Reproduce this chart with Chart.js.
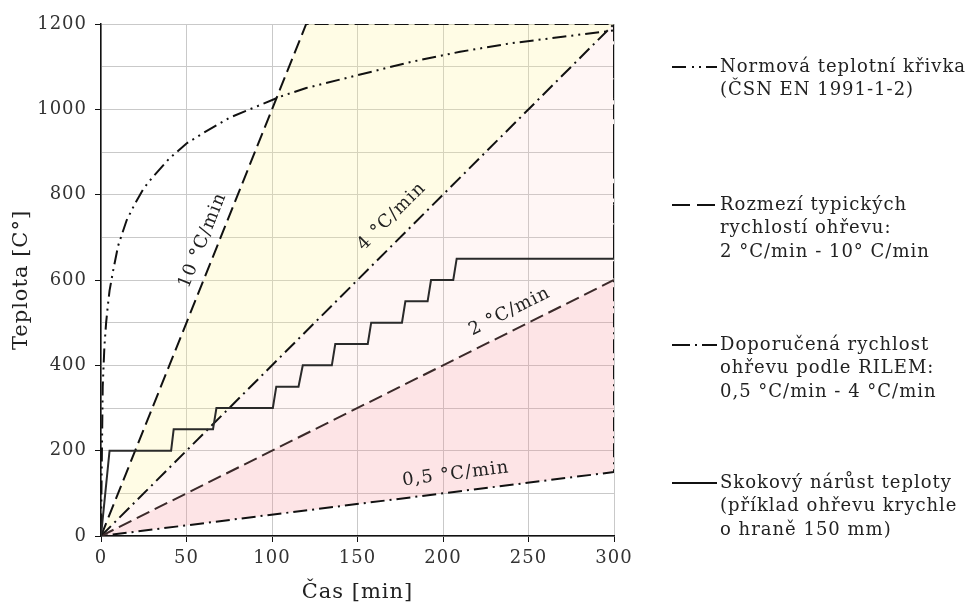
<!DOCTYPE html>
<html>
<head>
<meta charset="utf-8">
<script src="https://cdn.jsdelivr.net/npm/chart.js@4/dist/chart.umd.min.js"></script>
<style>
  html, body { margin: 0; padding: 0; background: #fff; }
  #wrap { width: 966px; height: 605px; position: relative; }
</style>
</head>
<body>
<div id="wrap"><canvas id="chart"></canvas></div>
<script>
/* ------------------------------
 * data
 * ------------------------------ */
// normová teplotní křivka
const isoTime = [0, 1, 2, 3, 4, 5, 7, 10, 15, 20, 25, 30, 40, 50, 60, 75, 90, 105, 120, 150, 180, 210, 240, 270, 300];
const isoTemp = [20, 350, 445, 500, 540, 575, 620, 680, 740, 780, 815, 840, 885, 920, 945, 980, 1005, 1030, 1050, 1080, 1110, 1135, 1155, 1170, 1185];

// rozmezí typických rychlostí (10 °C/min, strop, 2 °C/min)
const typHiTime = [0, 120, 300, 300];
const typHiTemp = [0, 1200, 1200, 600];
const typLoTime = [0, 300];
const typLoTemp = [0, 600];

// RILEM 4 °C/min a 0,5 °C/min
const rilemTime = [0, 300, 300, 0];
const rilemTemp = [0, 1200, 150, 0];

// skokový nárůst teploty
const stepTime = [0, 5, 41, 42.5, 65.5, 67.5, 100.5, 102.5, 115.5, 118, 135, 137, 156, 158, 176, 178, 191, 193, 206, 208, 300];
const stepTemp = [0, 200, 200, 250, 250, 300, 300, 350, 350, 400, 400, 450, 450, 500, 500, 550, 550, 600, 600, 650, 650];

// výplně mezi přímkami
const fillTime = [0, 120, 300];
const fill10 = [0, 1200, 1200];
const fill4 = [0, 480, 1200];
const fill2 = [0, 240, 600];
const fill05 = [0, 60, 150];

const xTicks = [0, 50, 100, 150, 200, 250, 300];
const yTicks = [0, 200, 400, 600, 800, 1000, 1200];

/* ------------------------------
 * helpers
 * ------------------------------ */
const FONT = "'DejaVu Serif', 'Liberation Serif', serif";
const pts = (xs, ys) => xs.map((x, i) => ({ x: x, y: ys[i] }));

const DASH = {
  iso:   [14, 5, 2, 5, 2, 5],
  typ:   [14, 6],
  rilem: [14, 5, 2, 5]
};

function lineSet(label, xs, ys, color, dash, width) {
  return {
    label: label,
    data: pts(xs, ys),
    borderColor: color,
    borderWidth: width,
    borderDash: dash,
    pointRadius: 0,
    fill: false,
    tension: 0,
    order: 1
  };
}

function fillSet(xs, ys, color, target) {
  return {
    data: pts(xs, ys),
    borderWidth: 0,
    borderColor: 'rgba(0,0,0,0)',
    backgroundColor: color,
    pointRadius: 0,
    fill: target === null ? false : { target: target },
    order: 10
  };
}

/* line labels (position in data units, slope in °C/min) */
const LINE_LABELS = [
  { text: '10 °C/min', t: 59.5, v: 693, rate: 10 },
  { text: '4 °C/min',  t: 170,  v: 749, rate: 4 },
  { text: '2 °C/min',  t: 239,  v: 526, rate: 2 },
  { text: '0,5 °C/min', t: 207.5, v: 145, rate: 0.5 }
];

/* legend */
const LEGEND = [
  { y: 67,  dash: [14, 6, 2, 5, 2, 5], lines: ['Normová teplotní křivka', '(ČSN EN 1991-1-2)'] },
  { y: 205, dash: [18, 7],             lines: ['Rozmezí typických', 'rychlostí ohřevu:', '2 °C/min - 10° C/min'] },
  { y: 345, dash: [18, 5, 2, 5],       lines: ['Doporučená rychlost', 'ohřevu podle RILEM:', '0,5 °C/min - 4 °C/min'] },
  { y: 483, dash: [],                  lines: ['Skokový nárůst teploty', '(příklad ohřevu krychle', 'o hraně 150 mm)'] }
];

const annotate = {
  id: 'annotate',
  beforeDraw(chart) {
    // wider text, like the original serif face
    if ('letterSpacing' in chart.ctx) chart.ctx.letterSpacing = '1px';
  },
  afterDatasetsDraw(chart) {
    const ctx = chart.ctx;
    const xs = chart.scales.x, ys = chart.scales.y;

    // labels along lines
    ctx.save();
    ctx.fillStyle = '#222';
    ctx.font = '18px ' + FONT;
    ctx.textAlign = 'center';
    ctx.textBaseline = 'middle';
    LINE_LABELS.forEach(l => {
      const px = xs.getPixelForValue(l.t);
      const py = ys.getPixelForValue(l.v);
      const dx = xs.getPixelForValue(100) - xs.getPixelForValue(0);
      const dy = ys.getPixelForValue(100 * l.rate) - ys.getPixelForValue(0);
      ctx.save();
      ctx.translate(px, py);
      ctx.rotate(Math.atan2(dy, dx));
      ctx.fillText(l.text, 0, 0);
      ctx.restore();
    });
    ctx.restore();
  },
  afterDraw(chart) {
    const ctx = chart.ctx;
    ctx.save();
    ctx.strokeStyle = '#111';
    ctx.lineWidth = 2;
    ctx.fillStyle = '#222';
    ctx.font = '18px ' + FONT;
    ctx.textAlign = 'left';
    ctx.textBaseline = 'middle';
    LEGEND.forEach(e => {
      ctx.setLineDash(e.dash);
      ctx.beginPath();
      ctx.moveTo(672, e.y);
      ctx.lineTo(717, e.y);
      ctx.stroke();
      e.lines.forEach((s, i) => ctx.fillText(s, 720, e.y + i * 23.5));
    });
    ctx.setLineDash([]);
    ctx.restore();
  }
};

/* ------------------------------
 * chart
 * ------------------------------ */
const ctxMain = document.getElementById('chart');

new Chart(ctxMain, {
  type: 'line',
  plugins: [annotate],
  data: {
    datasets: [
      lineSet('Skokový nárůst teploty', stepTime, stepTemp, '#2a2a2a', [], 2),
      lineSet('Normová teplotní křivka', isoTime, isoTemp, '#111', DASH.iso, 2),
      lineSet('Rozmezí typických rychlostí', typHiTime, typHiTemp, '#111', DASH.typ, 2),
      lineSet('2 °C/min', typLoTime, typLoTemp, '#3b2a2a', DASH.typ, 2),
      lineSet('Doporučená rychlost RILEM', rilemTime, rilemTemp, '#111', DASH.rilem, 2),
      fillSet(fillTime, fill10, 'rgba(255,245,150,0.25)', 6),
      fillSet(fillTime, fill4, 'rgba(255,200,190,0.16)', 7),
      fillSet(fillTime, fill2, 'rgba(245,130,140,0.22)', 8),
      fillSet(fillTime, fill05, 'rgba(0,0,0,0)', null)
    ]
  },
  options: {
    responsive: true,
    maintainAspectRatio: false,
    animation: false,
    layout: { padding: { left: 0, right: 352, top: 24, bottom: 0 } },
    scales: {
      x: {
        type: 'linear',
        min: 0,
        max: 300,
        afterFit: s => { s.height = 69; },
        afterBuildTicks: s => { s.ticks = xTicks.map(v => ({ value: v })); },
        grid: { color: '#c9c9c9', lineWidth: 1, tickLength: 6, tickColor: '#111' },
        border: { color: '#111', width: 1.5 },
        ticks: {
          padding: 6,
          color: '#333',
          font: { family: FONT, size: 18 }
        },
        title: {
          display: true,
          text: 'Čas [min]',
          color: '#222',
          font: { family: FONT, size: 21 },
          padding: { top: 0, bottom: 0 }
        }
      },
      y: {
        type: 'linear',
        min: 0,
        max: 1200,
        afterFit: s => { s.width = 101; },
        ticks: {
          stepSize: 100,
          padding: 8,
          color: '#333',
          font: { family: FONT, size: 18 },
          callback: v => (yTicks.includes(v) ? v : '')
        },
        grid: {
          color: '#c9c9c9',
          lineWidth: 1,
          tickLength: 6,
          tickColor: c => (c.tick && yTicks.includes(c.tick.value) ? '#111' : 'rgba(0,0,0,0)')
        },
        border: { color: '#111', width: 1.5 },
        title: {
          display: true,
          text: 'Teplota [C°]',
          color: '#222',
          font: { family: FONT, size: 21 },
          padding: { top: 9, bottom: 0 }
        }
      }
    },
    plugins: {
      legend: { display: false },
      tooltip: { enabled: false }
    }
  }
});
</script>
</body>
</html>
